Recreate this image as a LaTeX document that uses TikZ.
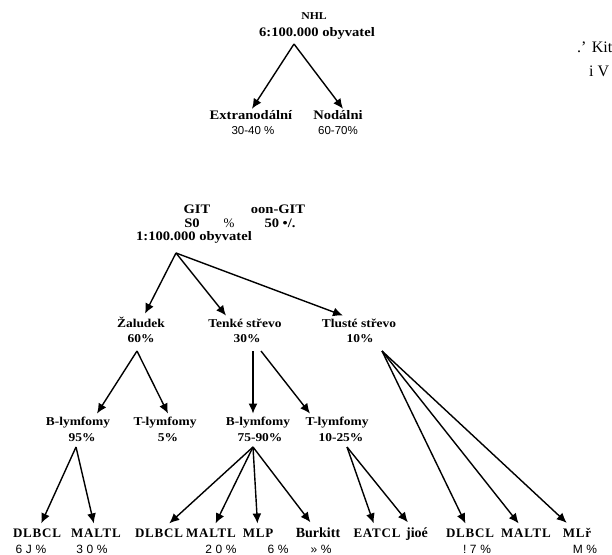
\documentclass[tikz,border=0pt]{standalone}
\usepackage{fontspec}
\setmainfont{Liberation Serif}
\newfontfamily\pctfont{Liberation Sans}
\newfontfamily\widefont[FakeStretch=1.12]{Liberation Serif}
\newfontfamily\spacedfont[LetterSpace=6]{Liberation Serif}
\newfontfamily\spacedpct[LetterSpace=30]{Liberation Sans}
\usetikzlibrary{arrows.meta}

\begin{document}
\begin{tikzpicture}[x=1pt,y=-1pt,
        lbl/.style={inner sep=1pt, anchor=base, font=\widefont\bfseries\fontsize{13}{15}\selectfont},
        sub/.style={inner sep=1pt, anchor=base, font=\pctfont\fontsize{11.5}{13}\selectfont},
        mid/.style={inner sep=1pt, outer ysep=2pt, anchor=base, font=\widefont\bfseries\fontsize{12}{14}\selectfont},
        leaf/.style={inner sep=1pt, outer ysep=4pt, anchor=base, font=\spacedfont\bfseries\fontsize{13}{15}\selectfont},
        leafpct/.style={inner sep=1pt, anchor=base, font=\spacedpct\fontsize{12}{14}\selectfont},
        arr/.style={-{Latex[length=10pt,width=9pt]}, line width=1.4pt}]
    \useasboundingbox (0,0) rectangle (612,554);

    % NHL on top
    \node[lbl, font=\widefont\bfseries\fontsize{10.5}{12}\selectfont] (nhl) at (314,19) {NHL};
    \node[lbl] (nhlrate) at (317,36) {6:100.000 obyvatel};
    \node[lbl] (extra) at (251,119) {Extranodální};
    \node[sub] (extrapct) at (253,134) {30-40 \%};
    \node[lbl] (nodal) at (338,119) {Nodálni};
    \node[sub] (nodalpct) at (338,134) {60-70\%};
    \coordinate (nhlfork) at (294,44);
    \draw[arr] (nhlfork) -- ([xshift=1pt]extra.north);
    \draw[arr] (nhlfork) -- ([xshift=5pt]nodal.north);

    % scrap of text at the right edge
    \node[anchor=base west, inner sep=0pt, font=\fontsize{16}{18}\selectfont] (kit) at (577,52) {.' Kit.};
    \node[anchor=base west, inner sep=0pt, font=\fontsize{16}{18}\selectfont] (iv) at (589,76) {i V};

    % GIT header
    \node[lbl] (git) at (197,213) {GIT};
    \node[lbl] (nongit) at (278,213) {oon-GIT};
    \node[lbl] (gitpct) at (192,227) {S0};
    \node[lbl, font=\fontsize{13}{15}\selectfont] (pctsign) at (229,227) {\%};
    \node[lbl] (nongitpct) at (280,227) {50 •/.};
    \node[lbl] (gitrate) at (194,240) {1:100.000 obyvatel};

    % organs
    \node[mid] (zal) at (141,327) {Žaludek};
    \node[mid] (zalpct) at (141,342) {60\%};
    \node[mid] (tenke) at (245,327) {Tenké střevo};
    \node[mid] (tenkepct) at (247,342) {30\%};
    \node[mid] (tluste) at (359,327) {Tlusté střevo};
    \node[mid] (tlustepct) at (360,342) {10\%};
    \coordinate (gitfork) at (176,253);
    \draw[arr] (gitfork) -- ([xshift=4pt]zal.north);
    \draw[arr] (gitfork) -- ([xshift=-19pt]tenke.north);
    \draw[arr] (gitfork) -- ([xshift=-16pt]tluste.north);

    % lymphoma types
    \node[mid] (blym1) at (78,425) {B-lymfomy};
    \node[mid] (blym1pct) at (82,441) {95\%};
    \node[mid] (tlym1) at (165,425) {T-lymfomy};
    \node[mid] (tlym1pct) at (168,441) {5\%};
    \node[mid] (blym2) at (258,425) {B-lymfomy};
    \node[mid] (blym2pct) at (260,441) {75-90\%};
    \node[mid] (tlym2) at (337,425) {T-lymfomy};
    \node[mid] (tlym2pct) at (341,441) {10-25\%};
    \coordinate (zalfork) at (137,351);
    \coordinate (tenkefork) at (253,351);
    \draw[arr] (zalfork) -- ([xshift=19pt]blym1.north);
    \draw[arr] (zalfork) -- ([xshift=3pt]tlym1.north);
    \draw[arr] (tenkefork) -- (tenkefork |- blym2.north);
    \draw[arr] ([xshift=8pt]tenkefork) -- ([xshift=-27pt]tlym2.north);

    % leaves
    \node[leaf] (dlb1) at (37,537) {DLBCL};
    \node[leaf] (mal1) at (96,537) {MALTL};
    \node[leaf] (dlb2) at (159,537) {DLBCL};
    \node[leaf] (mal2) at (211,537) {MALTL};
    \node[leaf] (mlp) at (258,537) {MLP};
    \node[leaf, font=\bfseries\fontsize{14}{16}\selectfont] (burk) at (318,537) {Burkitt};
    \node[leaf] (eatcl) at (377,537) {EATCL};
    \node[leaf, font=\bfseries\fontsize{14}{16}\selectfont] (jioe) at (417,537) {jioé};
    \node[leaf] (dlb3) at (470,537) {DLBCL};
    \node[leaf] (mal3) at (526,537) {MALTL};
    \node[leaf] (mlr) at (577,537) {MLř};
    \node[leafpct] (dlb1pct) at (31,553) {6J\%};
    \node[leafpct] (mal1pct) at (92,553) {30\%};
    \node[leafpct] (mal2pct) at (221,553) {20\%};
    \node[leafpct] (mlppct) at (278,553) {6\%};
    \node[leafpct] (burkpct) at (321,553) {»\%};
    \node[leafpct] (dlb3pct) at (477,553) {!7\%};
    \node[leafpct] (mlrpct) at (585,553) {M\%};

    \coordinate (blym1fork) at (76,447);
    \coordinate (blym2fork) at (253,447);
    \coordinate (tlym2fork) at (347,447);
    \coordinate (tlustefork) at (382,351);
    \foreach \t in {dlb1,mal1}
        \draw[arr] (blym1fork) -- (\t);
    \foreach \t in {dlb2,mal2,mlp,burk}
        \draw[arr] (blym2fork) -- (\t);
    \foreach \t in {eatcl,jioe}
        \draw[arr] (tlym2fork) -- (\t);
    \foreach \t in {dlb3,mal3,mlr}
        \draw[arr] (tlustefork) -- (\t);
\end{tikzpicture}
\end{document}
